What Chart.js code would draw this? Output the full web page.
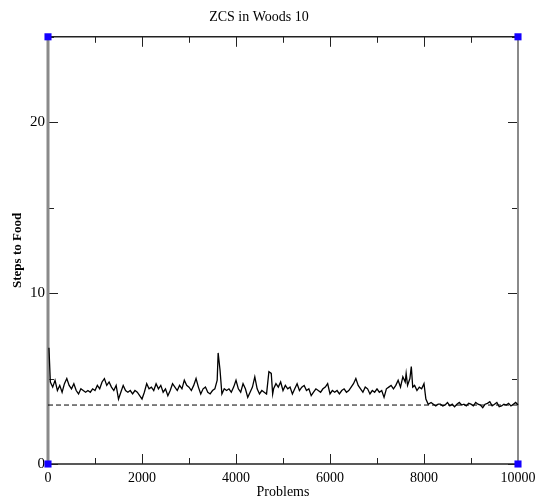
<!DOCTYPE html>
<html>
<head>
<meta charset="utf-8">
<script src="https://cdn.jsdelivr.net/npm/chart.js@4.4.0/dist/chart.umd.min.js"></script>
<style>
  html, body { margin: 0; padding: 0; background: #fff; }
  #wrap { width: 535px; height: 501px; }
</style>
</head>
<body>
<div id="wrap"><canvas id="myChart" width="535" height="501"></canvas></div>
<script>
// values
var TITLE = "ZCS in Woods 10"
var X_TICKS = [0, 2000, 4000, 6000, 8000, 10000]
var Y_TICKS = [0, 10, 20]
var CORNERS_X = [0, 0, 10000, 10000]
var CORNERS_Y = [0, 25, 25, 0]
var BASELINE_X = [0, 10000]
var BASELINE_Y = [3.45, 3.45]

var PROBLEMS = [20,50,100,150,200,250,300,350,400,450,500,550,600,650,700,750,800,850,900,950,
  1000,1050,1100,1150,1200,1250,1300,1350,1400,1450,1500,1550,1600,1650,1700,1750,1800,1850,1900,1950,
  2000,2050,2100,2150,2200,2250,2300,2350,2400,2450,2500,2550,2600,2650,2700,2750,2800,2850,2900,2950,
  3000,3050,3100,3150,3200,3250,3300,3350,3400,3450,3500,3550,3600,3620,3660,3700,3750,3800,3850,3900,3950,
  4000,4050,4100,4150,4200,4250,4300,4350,4400,4450,4500,4550,4600,4650,4700,4750,4780,4800,4850,4900,4950,
  5000,5050,5100,5150,5200,5250,5300,5350,5400,5450,5500,5550,5600,5650,5700,5750,5800,5850,5900,5950,
  6000,6050,6100,6150,6200,6250,6300,6350,6400,6450,6500,6550,6600,6650,6700,6750,6800,6850,6900,6950,
  7000,7050,7100,7150,7200,7250,7300,7350,7400,7450,7500,7550,7600,7620,7650,7700,7730,7760,7800,7850,7900,7950,
  8000,8040,8090,8150,8200,8250,8300,8350,8400,8450,8500,8550,8600,8650,8700,8750,8800,8850,8900,8950,
  9000,9050,9100,9150,9200,9250,9300,9350,9400,9450,9500,9550,9600,9650,9700,9750,9800,9850,9900,9950,10000]

var STEPS = [6.8,4.8,4.5,4.9,4.3,4.6,4.2,4.7,5.0,4.6,4.4,4.7,4.3,4.1,4.4,4.3,4.2,4.3,4.2,4.4,
  4.3,4.6,4.4,4.8,5.0,4.6,4.8,4.5,4.3,4.6,3.8,4.2,4.6,4.3,4.2,4.3,4.1,4.3,4.2,4.0,
  3.8,4.2,4.7,4.4,4.5,4.3,4.7,4.4,4.6,4.2,4.4,4.0,4.3,4.7,4.5,4.3,4.6,4.4,4.9,4.6,
  4.5,4.3,4.6,5.0,4.5,4.1,4.4,4.5,4.2,4.1,4.3,4.4,4.9,6.5,5.5,4.1,4.4,4.3,4.4,4.2,4.5,
  4.9,4.4,4.2,4.7,4.4,3.9,4.2,4.5,5.1,4.4,4.1,4.3,4.2,4.1,5.4,5.3,4.1,4.4,4.7,4.5,4.8,
  4.3,4.6,4.4,4.5,4.1,4.4,4.7,4.3,4.5,4.6,4.3,4.4,4.0,4.2,4.4,4.3,4.2,4.4,4.5,4.7,
  4.1,4.3,4.2,4.3,4.1,4.3,4.4,4.2,4.3,4.5,4.7,5.0,4.6,4.4,4.2,4.5,4.4,4.1,4.3,4.2,
  4.4,4.2,4.3,3.9,4.4,4.5,4.6,4.4,4.6,4.9,4.5,5.1,4.8,5.3,4.6,5.0,5.7,4.5,4.6,4.3,4.5,4.4,
  4.7,3.8,3.5,3.6,3.5,3.4,3.5,3.5,3.4,3.45,3.6,3.4,3.5,3.35,3.5,3.6,3.45,3.5,3.4,3.55,
  3.5,3.4,3.6,3.5,3.45,3.3,3.5,3.55,3.65,3.4,3.5,3.6,3.35,3.4,3.5,3.45,3.55,3.4,3.5,3.6,3.45]

var SERIF = "'Liberation Serif', 'DejaVu Serif', serif"

// frame and inward ticks, like the old xmgrace look
const frameTicks = {
  id: 'frameTicks',
  beforeDatasetsDraw(chart) {
    const ctx = chart.ctx
    const a = chart.chartArea
    const xs = chart.scales.x
    const ys = chart.scales.y
    ctx.save()
    ctx.strokeStyle = '#222'
    ctx.lineWidth = 1
    for (let v = 0; v <= 10000; v += 1000) {
      const px = Math.round(xs.getPixelForValue(v)) + 0.5
      const len = v % 2000 == 0 ? 10 : 6
      ctx.beginPath()
      ctx.moveTo(px, a.bottom); ctx.lineTo(px, a.bottom - len)
      ctx.moveTo(px, a.top); ctx.lineTo(px, a.top + len)
      ctx.stroke()
    }
    for (let v = 0; v <= 25; v += 5) {
      const py = Math.round(ys.getPixelForValue(v)) + 0.5
      const len = v % 10 == 0 ? 10 : 6
      ctx.beginPath()
      ctx.moveTo(a.left, py); ctx.lineTo(a.left + len, py)
      ctx.moveTo(a.right, py); ctx.lineTo(a.right - len, py)
      ctx.stroke()
    }
    ctx.lineWidth = 1.5
    ctx.beginPath()
    ctx.moveTo(a.left, a.top); ctx.lineTo(a.right, a.top)
    ctx.moveTo(a.left, a.bottom); ctx.lineTo(a.right, a.bottom)
    ctx.stroke()
    ctx.strokeStyle = '#8a8a8a'
    ctx.lineWidth = 3
    ctx.beginPath()
    ctx.moveTo(a.left, a.top); ctx.lineTo(a.left, a.bottom)
    ctx.stroke()
    ctx.lineWidth = 2
    ctx.beginPath()
    ctx.moveTo(a.right, a.top); ctx.lineTo(a.right, a.bottom)
    ctx.stroke()
    ctx.restore()
  }
}

const lineData = PROBLEMS.map((p, i) => ({x: p, y: STEPS[i]}))
const baseData = BASELINE_X.map((p, i) => ({x: p, y: BASELINE_Y[i]}))
const cornerData = CORNERS_X.map((p, i) => ({x: p, y: CORNERS_Y[i]}))

const config = {
  type: 'scatter',
  data: {
    datasets: [{
      label: 'baseline',
      data: baseData,
      showLine: true,
      borderColor: '#000',
      borderWidth: 1,
      borderDash: [5, 3],
      pointRadius: 0
    }, {
      label: 'ZCS',
      data: lineData,
      showLine: true,
      borderColor: '#000',
      borderWidth: 1.3,
      pointRadius: 0,
      tension: 0
    }, {
      label: 'corners',
      data: cornerData,
      showLine: false,
      pointStyle: 'rect',
      pointRadius: 5,
      backgroundColor: '#1400ff',
      borderColor: '#1400ff',
      borderWidth: 0
    }]
  },
  options: {
    responsive: false,
    animation: false,
    clip: false,
    layout: { padding: { left: 0, right: 17, top: 0, bottom: 0 } },
    plugins: {
      legend: { display: false },
      tooltip: { enabled: false },
      title: {
        display: true,
        text: TITLE,
        color: '#000',
        font: { family: SERIF, size: 14, weight: 'normal' },
        padding: { top: 9, bottom: 11 }
      }
    },
    scales: {
      x: {
        type: 'linear',
        min: 0,
        max: 10000,
        grid: { display: false, drawTicks: false },
        border: { display: false },
        afterBuildTicks: (s) => { s.ticks = X_TICKS.map(v => ({value: v})) },
        afterFit: (s) => { s.height = 37; s.paddingLeft = 0; s.paddingRight = 0 },
        ticks: {
          color: '#000',
          padding: 6,
          maxRotation: 0,
          font: { family: SERIF, size: 14 },
          callback: (v) => String(v)
        },
        title: {
          display: true,
          text: 'Problems',
          color: '#000',
          padding: { top: 1, bottom: 0 },
          font: { family: SERIF, size: 14 }
        }
      },
      y: {
        type: 'linear',
        min: 0,
        max: 25,
        grid: { display: false, drawTicks: false },
        border: { display: false },
        afterBuildTicks: (s) => { s.ticks = Y_TICKS.map(v => ({value: v})) },
        afterFit: (s) => { s.width = 48; s.paddingTop = 0; s.paddingBottom = 0 },
        ticks: {
          color: '#000',
          padding: 3,
          font: { family: SERIF, size: 15 },
          callback: (v) => String(v)
        },
        title: {
          display: true,
          text: 'Steps to Food',
          color: '#000',
          padding: { top: 10, bottom: 0 },
          font: { family: SERIF, size: 13, weight: 'bold' }
        }
      }
    }
  },
  plugins: [frameTicks]
}

var myChart = new Chart(document.getElementById('myChart'), config)
</script>
</body>
</html>
